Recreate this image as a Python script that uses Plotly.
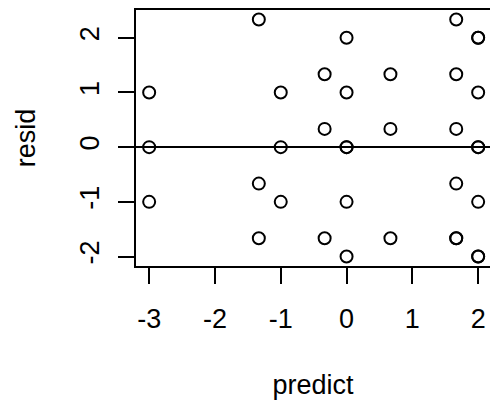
import plotly.graph_objects as go

# fitted values and residuals (repeated pairs are overplotted observations)
predict = [-3, -3, -3,
           -4/3, -4/3, -4/3,
           -1, -1, -1,
           -1/3, -1/3, -1/3,
           0, 0, 0, 0, 0, 0,
           2/3, 2/3, 2/3,
           5/3, 5/3, 5/3, 5/3, 5/3, 5/3,
           2, 2, 2, 2, 2, 2, 2, 2]
resid = [1, 0, -1,
         7/3, -2/3, -5/3,
         1, 0, -1,
         4/3, 1/3, -5/3,
         2, 1, 0, 0, -1, -2,
         4/3, 1/3, -5/3,
         7/3, 4/3, 1/3, -2/3, -5/3, -5/3,
         2, 2, 1, 0, 0, -1, -2, -2]

x_ticks = [-3, -2, -1, 0, 1, 2]
y_ticks = [-2, -1, 0, 1, 2]

FONT = dict(family="Liberation Sans, Arial, sans-serif", size=27, color="black")

fig = go.Figure(
    go.Scatter(
        x=predict, y=resid, mode="markers",
        marker=dict(symbol="circle-open", size=12, color="black",
                    line=dict(width=2, color="black")),
        hoverinfo="skip",
    )
)

fig.update_layout(
    width=490, height=403,
    margin=dict(l=136, r=0, t=10, b=137),
    paper_bgcolor="white", plot_bgcolor="white",
    showlegend=False,
    font=FONT,
)

fig.update_xaxes(
    range=[-3.2, -3.2 + 354 / 65.8],
    tickmode="array", tickvals=x_ticks, ticktext=[str(v) for v in x_ticks],
    ticks="outside", ticklen=16, tickwidth=2, tickcolor="black",
    ticklabelstandoff=12,
    showline=True, linecolor="black", linewidth=2, mirror=True,
    showgrid=False, zeroline=False,
    title=dict(text="predict", font=FONT, standoff=42),
    tickfont=FONT,
)
fig.update_yaxes(
    range=[-2.173, 2.507],
    tickmode="array", tickvals=y_ticks, ticktext=[str(v) for v in y_ticks],
    ticks="outside", ticklen=16, tickwidth=2, tickcolor="black",
    tickangle=-90, ticklabelstandoff=8,
    showline=True, linecolor="black", linewidth=2, mirror=False,
    showgrid=False,
    zeroline=True, zerolinecolor="black", zerolinewidth=1.5,
    title=dict(text="resid", font=FONT, standoff=32),
    tickfont=FONT,
)

fig.write_html("out.html")
